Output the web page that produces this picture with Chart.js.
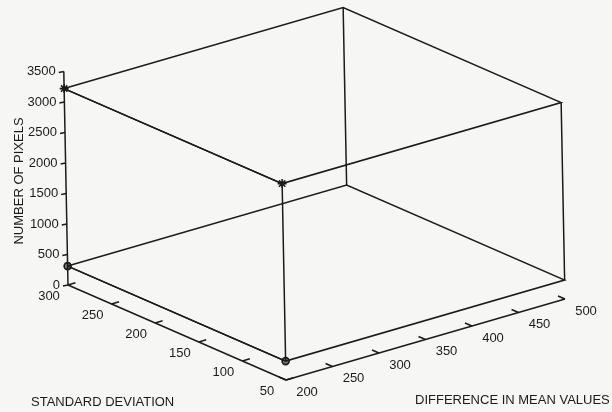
<!DOCTYPE html>
<html>
<head>
<meta charset="utf-8">
<title>Number of pixels</title>
<script src="https://cdn.jsdelivr.net/npm/chart.js@4.4.1/dist/chart.umd.min.js"></script>
<style>
    html, body { margin: 0; padding: 0; background: #f6f6f4; }
    #wrap { width: 612px; height: 412px; }
</style>
</head>
<body>
<div id="wrap"><canvas id="chart" width="612" height="412"></canvas></div>
<script>
"use strict";

// tick labels on the three axes
const sdTicks = [300, 250, 200, 150, 100, 50];
const diffTicks = [200, 250, 300, 350, 400, 450, 500];
const zTicks = [0, 500, 1000, 1500, 2000, 2500, 3000, 3500];

// the two measured series (standard deviation, difference in mean, pixels)
const stdDev = [300, 50];
const diffMean = [200, 200];
const pixelsStar = [3220, 3220];
const pixelsCircle = [310, 310];

const INK = '#1b1b1b';
const FONT = '13px "Liberation Sans", Arial, sans-serif';

/* oblique view: sd runs down-right, diff runs up-right, z goes up. */
const project = (sd, diff, z) => {
    const u = 300 - sd;
    const v = diff - 200;
    return {
        x: 68 + 0.872 * u + 0.930 * v - 0.0012 * z,
        y: 285 + 0.380 * u - 0.270 * v - 0.0610 * z
    };
};

const sdMin = Math.min(...sdTicks), sdMax = Math.max(...sdTicks);
const diffMin = Math.min(...diffTicks), diffMax = Math.max(...diffTicks);
const zLo = Math.min(...pixelsCircle), zHi = Math.max(...pixelsStar);

/* box built from the data extents */
const face = (z) => [
    project(sdMax, diffMin, z), project(sdMin, diffMin, z),
    project(sdMin, diffMax, z), project(sdMax, diffMax, z),
    project(sdMax, diffMin, z)
];
const edge = (sd, diff) => [project(sd, diff, zLo), project(sd, diff, zHi)];

const lineSet = (data) => ({
    data: data,
    showLine: true,
    borderColor: INK,
    borderWidth: 1.5,
    pointRadius: 0,
    fill: false
});

const series = (z, style) => ({
    data: stdDev.map((s, i) => project(s, diffMean[i], z[i])),
    showLine: true,
    borderColor: INK,
    borderWidth: 1.5,
    pointStyle: style,
    pointRadius: style === 'star' ? 4.5 : 3.5,
    pointBorderColor: INK,
    pointBorderWidth: 1.6,
    pointBackgroundColor: '#777'
});

/* draws the three ticked axes, their labels and titles. */
const axes3d = {
    id: 'axes3d',
    afterDatasetsDraw(chart) {
        const ctx = chart.ctx;
        const xs = chart.scales.x, ys = chart.scales.y;
        const px = (p) => ({ x: xs.getPixelForValue(p.x), y: ys.getPixelForValue(p.y) });
        const seg = (a, b) => {
            const p = px(a), q = px(b);
            ctx.beginPath();
            ctx.moveTo(p.x, p.y);
            ctx.lineTo(q.x, q.y);
            ctx.stroke();
        };

        ctx.save();
        ctx.strokeStyle = INK;
        ctx.lineWidth = 1.5;
        ctx.fillStyle = INK;
        ctx.font = FONT;

        // z axis
        seg(project(sdMax, diffMin, 0), project(sdMax, diffMin, Math.max(...zTicks)));
        ctx.textAlign = 'right';
        ctx.textBaseline = 'middle';
        zTicks.forEach(t => {
            const p = px(project(sdMax, diffMin, t));
            ctx.beginPath();
            ctx.moveTo(p.x, p.y);
            ctx.lineTo(p.x - 5, p.y + 1);
            ctx.stroke();
            ctx.fillText(String(t), p.x - 8, p.y);
        });

        // standard deviation axis
        seg(project(sdMax, diffMin, 0), project(sdMin, diffMin, 0));
        ctx.textAlign = 'center';
        sdTicks.forEach(t => {
            seg(project(t, diffMin, 0), project(t, diffMin + 8, 0));
            const p = px(project(t, diffMin, 0));
            ctx.fillText(String(t), p.x - 19, p.y + 11);
        });

        // difference in mean axis
        seg(project(sdMin, diffMin, 0), project(sdMin, diffMax, 0));
        diffTicks.forEach(t => {
            seg(project(sdMin, t, 0), project(sdMin + 8, t, 0));
            const p = px(project(sdMin, t, 0));
            ctx.fillText(String(t), p.x + 21, p.y + 12);
        });

        // titles
        ctx.textAlign = 'left';
        ctx.fillText('STANDARD DEVIATION', 31, 402);
        ctx.fillText('DIFFERENCE IN MEAN VALUES', 415, 400);

        ctx.translate(19, 181);
        ctx.rotate(-Math.PI / 2);
        ctx.textAlign = 'center';
        ctx.fillText('NUMBER OF PIXELS', 0, 0);
        ctx.restore();
    }
};

const ctx = document.getElementById('chart').getContext('2d');
new Chart(ctx, {
    type: 'scatter',
    data: {
        datasets: [
            lineSet(face(zHi)),
            lineSet(face(zLo)),
            lineSet(edge(sdMin, diffMin)),
            lineSet(edge(sdMin, diffMax)),
            lineSet(edge(sdMax, diffMax)),
            series(pixelsStar, 'star'),
            series(pixelsCircle, 'circle')
        ]
    },
    options: {
        responsive: false,
        animation: false,
        clip: false,
        layout: { padding: 0, autoPadding: false },
        plugins: {
            legend: { display: false },
            tooltip: { enabled: false }
        },
        scales: {
            x: { type: 'linear', min: 0, max: 612, display: false },
            y: { type: 'linear', min: 0, max: 412, reverse: true, display: false }
        }
    },
    plugins: [axes3d]
});
</script>
</body>
</html>
